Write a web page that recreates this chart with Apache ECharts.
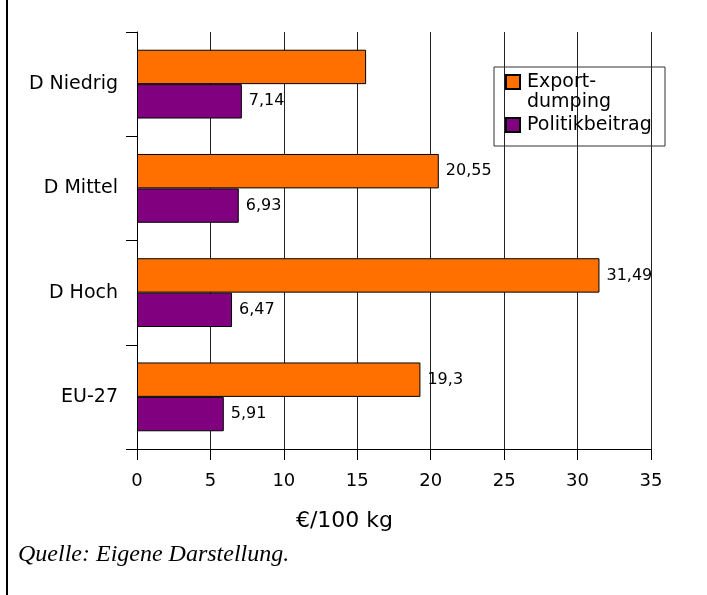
<!DOCTYPE html>
<html>
<head>
<meta charset="utf-8">
<script src="https://cdn.jsdelivr.net/npm/echarts@6/dist/echarts.min.js"></script>
<style>
  html, body { margin: 0; padding: 0; background: #fff; }
  #chart { width: 707px; height: 595px; }
</style>
</head>
<body>
<div id="chart"></div>
<script>
// Daten
var categories = ['D Niedrig', 'D Mittel', 'D Hoch', 'EU-27'];
var exportDumping = [15.6, 20.55, 31.49, 19.3];
var politikbeitrag = [7.14, 6.93, 6.47, 5.91];
var xTicks = [0, 35, 5];
var seriesNames = ['Export-dumping', 'Politikbeitrag'];

var font = 'DejaVu Sans';

function fmt(p) {
    return String(p.value).replace('.', ',');
}

var chart = echarts.init(document.getElementById('chart'));

chart.setOption({
    animation: false,
    backgroundColor: '#fff',
    grid: { left: 137, right: 56, top: 32, bottom: 146 },
    legend: {
        orient: 'vertical',
        left: 505,
        top: 52,
        padding: 0,
        icon: 'rect',
        itemWidth: 14,
        itemHeight: 14,
        itemGap: 3,
        textStyle: { fontFamily: font, fontSize: 19, color: '#000', lineHeight: 20, padding: [0, 0, 0, 2] },
        formatter: function (name) {
            // erste Zeile leer, damit das Symbol neben "Export-" steht
            return name === 'Export-dumping' ? '\nExport-\ndumping' : name;
        },
        data: seriesNames
    },
    xAxis: {
        type: 'value',
        min: xTicks[0],
        max: xTicks[1],
        interval: xTicks[2],
        name: '€/100 kg',
        nameLocation: 'middle',
        nameGap: 61,
        nameTextStyle: { fontFamily: font, fontSize: 22, color: '#000', padding: [0, 99, 0, 0] },
        axisLine: { show: true, lineStyle: { color: '#000', width: 1 } },
        axisTick: { show: true, length: 11, lineStyle: { color: '#000' } },
        axisLabel: { fontFamily: font, fontSize: 18, color: '#000', margin: 23 },
        splitLine: { show: true, lineStyle: { color: '#222', width: 1 } }
    },
    yAxis: {
        type: 'category',
        data: categories,
        inverse: true,
        axisLine: { show: true, lineStyle: { color: '#000', width: 1 } },
        axisTick: { show: true, length: 11, lineStyle: { color: '#000' } },
        axisLabel: { fontFamily: font, fontSize: 19, color: '#000', margin: 19 },
        splitLine: { show: false }
    },
    series: [
        {
            name: seriesNames[0],
            type: 'bar',
            barGap: '0%',
            barCategoryGap: '34%',
            itemStyle: { color: '#ff7000', borderColor: '#000', borderWidth: 1 },
            label: {
                show: true, position: 'right', distance: 7,
                fontFamily: font, fontSize: 16, color: '#000', formatter: fmt
            },
            data: exportDumping.map(function (v, i) {
                return i === 0 ? { value: v, label: { show: false } } : v;
            })
        },
        {
            name: seriesNames[1],
            type: 'bar',
            barGap: '0%',
            barCategoryGap: '34%',
            itemStyle: { color: '#800080', borderColor: '#000', borderWidth: 1 },
            label: {
                show: true, position: 'right', distance: 7,
                fontFamily: font, fontSize: 16, color: '#000', formatter: fmt
            },
            data: politikbeitrag
        }
    ],
    graphic: [
        {
            type: 'rect',
            shape: { x: 494, y: 67, width: 171, height: 79 },
            style: { fill: 'none', stroke: '#333', lineWidth: 1 },
            z: 100
        },
        {
            type: 'line',
            shape: { x1: 7, y1: 0, x2: 7, y2: 595 },
            style: { stroke: '#000', lineWidth: 2 }
        },
        {
            type: 'text',
            left: 18,
            top: 543,
            style: {
                text: 'Quelle: Eigene Darstellung.',
                font: 'italic 24px "Liberation Serif"',
                fill: '#000'
            }
        }
    ]
});
</script>
</body>
</html>
